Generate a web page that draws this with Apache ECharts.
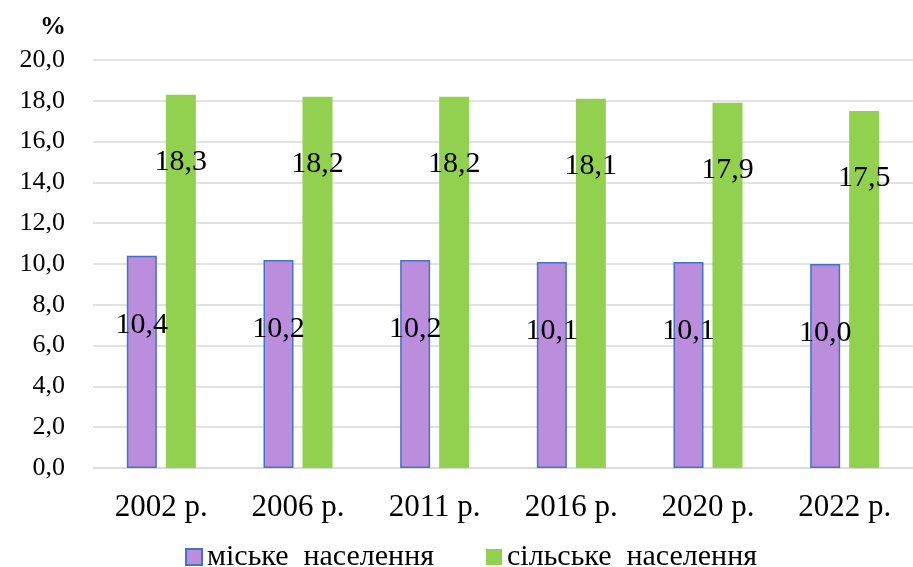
<!DOCTYPE html>
<html><head><meta charset="utf-8">
<script src="https://cdn.jsdelivr.net/npm/echarts@6/dist/echarts.min.js"></script>
<style>html,body{margin:0;padding:0;background:#fff}#c{width:913px;height:567px}</style>
</head><body><div id="c"></div>
<script>
const categories = ['2002 р.', '2006 р.', '2011 р.', '2016 р.', '2020 р.', '2022 р.'];
const urban = [10.4, 10.2, 10.2, 10.1, 10.1, 10.0];
const rural = [18.3, 18.2, 18.2, 18.1, 17.9, 17.5];
const seriesNames = ['міське  населення', 'сільське  населення'];
const unitLabel = '%';

const fmt = v => v.toFixed(1).replace('.', ',');
const font = '"Liberation Serif", "Times New Roman", serif';
const chart = echarts.init(document.getElementById('c'));
chart.setOption({
  animation: false,
  backgroundColor: '#fff',
  textStyle: { fontFamily: font },
  grid: { left: 93, top: 60, width: 831, height: 408 },
  legend: {
    top: 537, left: 180, icon: 'rect', itemWidth: 16, itemHeight: 16, itemGap: 52,
    textStyle: { fontFamily: font, fontSize: 30, color: '#000' },
    data: seriesNames
  },
  graphic: [{ type: 'text', left: 40, top: 14, style: { text: unitLabel, fontFamily: font, fontWeight: 'bold', fontSize: 26, fill: '#000' } }],
  xAxis: {
    type: 'category', data: categories,
    axisLine: { lineStyle: { color: '#d9d9d9', width: 1.5 } },
    axisTick: { show: false },
    axisLabel: { fontFamily: font, fontSize: 31, color: '#000', margin: 24 }
  },
  yAxis: {
    type: 'value', min: 0, max: 20, interval: 2,
    axisLine: { show: false }, axisTick: { show: false },
    splitLine: { lineStyle: { color: '#d9d9d9', width: 1.5 } },
    axisLabel: { fontFamily: font, fontSize: 26, color: '#000', margin: 28, formatter: v => fmt(v) }
  },
  series: [
    {
      name: seriesNames[0], type: 'bar', data: urban, barWidth: 30, barGap: '30%',
      itemStyle: { color: '#BB8EDD', borderColor: '#4472C4', borderWidth: 1.5 },
      label: { show: true, position: 'insideTop', distance: 54, fontFamily: font, fontSize: 30, color: '#000', formatter: p => fmt(p.value) }
    },
    {
      name: seriesNames[1], type: 'bar', data: rural, barWidth: 30,
      itemStyle: { color: '#92D050' },
      label: { show: true, position: 'insideTop', distance: 52, fontFamily: font, fontSize: 30, color: '#000', formatter: p => fmt(p.value) }
    }
  ]
});
</script></body></html>
